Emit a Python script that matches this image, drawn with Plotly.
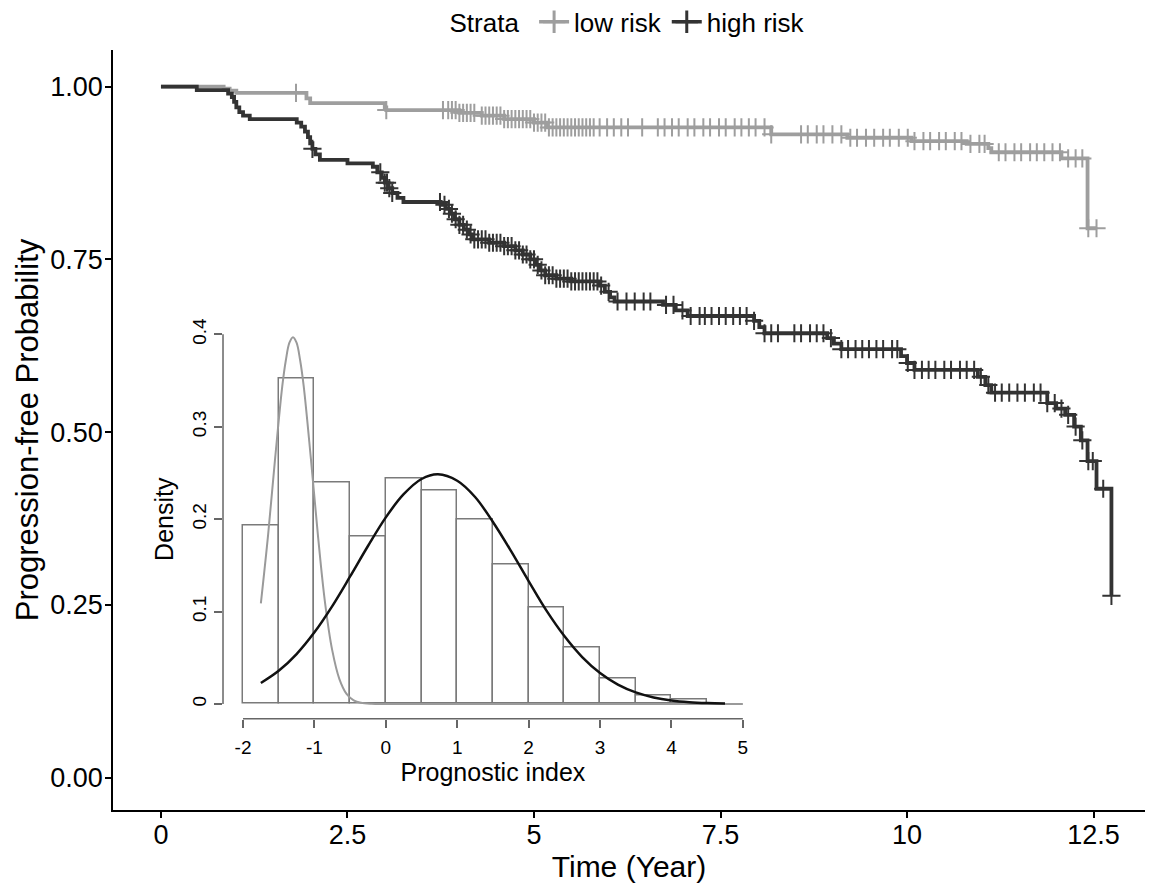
import numpy as np
import plotly.graph_objects as go

# ---------------- Kaplan-Meier data ----------------
low_t = [0, 0.84, 0.92, 1.01, 1.95, 2.0, 3.0, 3.02, 4.0, 4.3, 4.6, 5.0, 5.17, 8.18, 9.2, 10.06, 10.8, 11.09,
         11.13, 12.07, 12.42]
low_s = [1.0, 0.997, 0.994, 0.991, 0.983, 0.976, 0.970, 0.966, 0.962, 0.958, 0.953, 0.948, 0.941, 0.931,
         0.926, 0.921, 0.917, 0.911, 0.905, 0.896, 0.795]
low_cens = [1.81, 3.02, 3.78, 3.85, 3.9, 3.95, 4.0, 4.05, 4.1, 4.15, 4.2, 4.3, 4.35, 4.4, 4.45, 4.5, 4.55,
            4.6, 4.65, 4.7, 4.75, 4.8, 4.85, 4.9, 4.95, 5.0, 5.05, 5.1, 5.15, 5.2, 5.25, 5.3, 5.35, 5.4,
            5.45, 5.5, 5.55, 5.6, 5.65, 5.7, 5.75, 5.8, 5.88, 5.98, 6.07, 6.17, 6.26, 6.45, 6.66, 6.75,
            6.85, 6.94, 7.06, 7.15, 7.27, 7.36, 7.48, 7.57, 7.69, 7.78, 7.88, 7.97, 8.09, 8.18, 8.58,
            8.67, 8.79, 8.88, 9.0, 9.12, 9.24, 9.33, 9.45, 9.56, 9.68, 9.77, 9.89, 10.01, 10.1, 10.22,
            10.31, 10.43, 10.52, 10.64, 10.73, 10.85, 10.97, 11.04, 11.23, 11.32, 11.44, 11.53, 11.65,
            11.74, 11.84, 11.95, 12.05, 12.16, 12.26, 12.35, 12.43, 12.54]

high_t = [0, 0.48, 0.9, 0.95, 0.98, 1.01, 1.05, 1.1, 1.19, 1.82, 1.88, 1.93, 1.97, 2.0, 2.03, 2.07, 2.13,
          2.5, 2.84, 2.9, 2.96, 3.0, 3.05, 3.1, 3.17, 3.25, 3.75, 3.82, 3.88, 3.94, 4.0, 4.06, 4.12, 4.18,
          4.4, 4.6, 4.75, 4.85, 4.95, 5.02, 5.08, 5.15, 5.3, 5.5, 5.88, 5.95, 6.02, 6.08, 6.73, 6.9, 7.06,
          7.95, 8.02, 8.09, 8.93, 9.02, 9.12, 9.92, 10.0, 10.1, 10.95, 11.05, 11.13, 11.88, 12.0, 12.12,
          12.24, 12.33, 12.42, 12.54, 12.74]
high_s = [1.0, 0.995, 0.99, 0.985, 0.978, 0.970, 0.963, 0.958, 0.953, 0.948, 0.942, 0.935, 0.927, 0.918,
          0.910, 0.902, 0.894, 0.889, 0.884, 0.876, 0.868, 0.861, 0.853, 0.846, 0.839, 0.833, 0.829, 0.823,
          0.816, 0.808, 0.800, 0.793, 0.786, 0.779, 0.774, 0.769, 0.763, 0.757, 0.750, 0.742, 0.734, 0.727,
          0.722, 0.718, 0.712, 0.703, 0.695, 0.689, 0.684, 0.676, 0.668, 0.661, 0.652, 0.643, 0.636, 0.628,
          0.620, 0.610, 0.600, 0.590, 0.580, 0.568, 0.557, 0.542, 0.534, 0.525, 0.508, 0.488, 0.458,
          0.418, 0.263]
high_cens = [2.03, 2.94, 3.0, 3.03, 3.06, 3.1, 3.74, 3.8, 3.86, 3.9, 3.95, 4.0, 4.05, 4.1, 4.15, 4.2, 4.25,
             4.3, 4.35, 4.4, 4.45, 4.5, 4.55, 4.6, 4.65, 4.7, 4.75, 4.8, 4.85, 4.9, 4.95, 5.0, 5.05, 5.1,
             5.15, 5.2, 5.25, 5.3, 5.35, 5.4, 5.45, 5.5, 5.55, 5.6, 5.65, 5.7, 5.75, 5.8, 5.85, 5.9, 6.0,
             6.12, 6.24, 6.35, 6.47, 6.56, 6.77, 6.87, 6.99, 7.1, 7.22, 7.29, 7.38, 7.48, 7.57, 7.67, 7.76,
             7.85, 7.95, 8.09, 8.18, 8.27, 8.49, 8.58, 8.7, 8.79, 8.88, 8.98, 9.12, 9.21, 9.31, 9.4, 9.49,
             9.59, 9.68, 9.8, 9.87, 10.01, 10.1, 10.2, 10.29, 10.38, 10.5, 10.59, 10.71, 10.8, 10.9,
             10.99, 11.09, 11.18, 11.27, 11.37, 11.48, 11.58, 11.7, 11.79, 11.88, 11.98, 12.07, 12.16,
             12.26, 12.35, 12.43, 12.49, 12.63, 12.74]

x_ticks = [0, 2.5, 5, 7.5, 10, 12.5]
x_ticklabels = ["0", "2.5", "5", "7.5", "10", "12.5"]
y_ticks = [0, 0.25, 0.5, 0.75, 1.0]
y_ticklabels = ["0.00", "0.25", "0.50", "0.75", "1.00"]

# ---------------- Inset histogram data ----------------
bin_edges = [-2, -1.5, -1, -0.5, 0, 0.5, 1, 1.5, 2, 2.5, 3, 3.5, 4, 4.5]
bin_density = [0.193, 0.352, 0.240, 0.181, 0.2435, 0.231, 0.200, 0.151, 0.104, 0.061, 0.028, 0.0087, 0.0043]

low_curve_x = [-1.75, -1.65, -1.55, -1.45, -1.40, -1.35, -1.30, -1.25, -1.20, -1.15, -1.05, -0.95, -0.85,
               -0.75, -0.65, -0.55, -0.45, -0.35, -0.2, 0, 1, 2, 3, 4, 5]
low_curve_y = [0.109, 0.182, 0.266, 0.344, 0.372, 0.391, 0.397, 0.391, 0.372, 0.344, 0.266, 0.182, 0.109,
               0.058, 0.027, 0.011, 0.004, 0.0013, 0.0002, 0, 0, 0, 0, 0, 0]
high_curve_x = [-1.75, -1.5, -1.25, -1.0, -0.75, -0.5, -0.25, 0, 0.25, 0.5, 0.73, 1.0, 1.25, 1.5, 1.75,
                2.0, 2.25, 2.5, 2.75, 3.0, 3.25, 3.5, 3.75, 4.0, 4.25, 4.5, 4.75]
high_curve_y = [0.0227, 0.0359, 0.0541, 0.0776, 0.106, 0.138, 0.171, 0.202, 0.227, 0.2435, 0.2486, 0.2416,
                0.224, 0.197, 0.166, 0.133, 0.101, 0.0735, 0.0508, 0.0335, 0.021, 0.01255, 0.00714,
                0.00387, 0.002, 0.00099, 0.00046]

inset_x_ticks = [-2, -1, 0, 1, 2, 3, 4, 5]
inset_x_ticklabels = ["-2", "-1", "0", "1", "2", "3", "4", "5"]
inset_y_ticks = [0, 0.1, 0.2, 0.3, 0.4]
inset_y_ticklabels = ["0", "0.1", "0.2", "0.3", "0.4"]

# ---------------- styles ----------------
LOW_COL = "#9e9e9e"
HIGH_COL = "#333333"
FONT = "Liberation Sans, Arial, sans-serif"


def step_value(times, surv, t):
    idx = np.searchsorted(np.asarray(times), t, side="right") - 1
    return float(np.asarray(surv)[idx])


def extend(times, surv, cens):
    last = max(times[-1], max(cens))
    return list(times) + [last], list(surv) + [surv[-1]]


fig = go.Figure()

for name, t, s, cens, col in [("low risk", low_t, low_s, low_cens, LOW_COL),
                              ("high risk", high_t, high_s, high_cens, HIGH_COL)]:
    tx, sx = extend(t, s, cens)
    fig.add_trace(go.Scatter(x=tx, y=sx, mode="lines", line=dict(color=col, width=3.8, shape="hv"),
                             showlegend=False, hoverinfo="skip"))
    fig.add_trace(go.Scatter(x=cens, y=[step_value(t, s, c) for c in cens], mode="markers",
                             marker=dict(symbol="cross-thin", size=13, line=dict(color=col, width=2)),
                             showlegend=False, hoverinfo="skip"))
    fig.add_trace(go.Scatter(x=[None], y=[None], mode="lines+markers", name=name,
                             line=dict(color=col, width=3.5),
                             marker=dict(symbol="cross-thin", size=16, line=dict(color=col, width=3))))

# inset histogram
centers = [(a + b) / 2 for a, b in zip(bin_edges[:-1], bin_edges[1:])]
widths = [b - a for a, b in zip(bin_edges[:-1], bin_edges[1:])]
fig.add_trace(go.Bar(x=centers, y=bin_density, width=widths, xaxis="x2", yaxis="y2",
                     marker=dict(color="white", line=dict(color="#7a7a7a", width=1.5)),
                     showlegend=False, hoverinfo="skip"))
fig.add_trace(go.Scatter(x=low_curve_x, y=low_curve_y, mode="lines", xaxis="x2", yaxis="y2",
                         line=dict(color="#9a9a9a", width=2, shape="spline"),
                         showlegend=False, hoverinfo="skip"))
fig.add_trace(go.Scatter(x=high_curve_x, y=high_curve_y, mode="lines", xaxis="x2", yaxis="y2",
                         line=dict(color="#111111", width=2.5, shape="spline"),
                         showlegend=False, hoverinfo="skip"))

# inset axis lines spanning only the tick range (base-R style)
fig.add_shape(type="line", xref="x2", yref="y2 domain", x0=inset_x_ticks[0], x1=inset_x_ticks[-1],
              y0=0, y1=0, line=dict(color="#666666", width=1.5))
fig.add_shape(type="line", xref="x2 domain", yref="y2", x0=0, x1=0, y0=inset_y_ticks[0],
              y1=inset_y_ticks[-1], line=dict(color="#666666", width=1.5))

fig.update_layout(
    width=1149, height=884,
    margin=dict(l=113, r=4, t=50, b=74, autoexpand=False),
    paper_bgcolor="white", plot_bgcolor="rgba(0,0,0,0)",
    font=dict(family=FONT, color="black"),
    bargap=0,
    legend=dict(orientation="h", x=0.5, xanchor="center", y=1.037, yanchor="middle",
                title=dict(text="Strata ", font=dict(size=26)), font=dict(size=26),
                itemwidth=30, bgcolor="rgba(0,0,0,0)"),
    xaxis=dict(domain=[0, 1], range=[-0.643, 13.19], tickvals=x_ticks, ticktext=x_ticklabels,
               showline=True, linecolor="black", linewidth=1.5, ticks="outside", ticklen=6,
               tickcolor="black", tickwidth=1.5, showgrid=False, zeroline=False,
               tickfont=dict(size=27, color="black"), ticklabelstandoff=-6,
               title=dict(text="Time (Year)", font=dict(size=30), standoff=4)),
    yaxis=dict(domain=[0, 1], range=[-0.047, 1.053], tickvals=y_ticks, ticktext=y_ticklabels,
               showline=True, linecolor="black", linewidth=1.5, ticks="outside", ticklen=6,
               tickcolor="black", tickwidth=1.5, showgrid=False, zeroline=False,
               tickfont=dict(size=27, color="black"), ticklabelstandoff=-3,
               title=dict(text="Progression-free Probability", font=dict(size=31), standoff=2)),
    xaxis2=dict(domain=[0.1066, 0.6297], anchor="y2", range=[-2.28, 5.28], tickvals=inset_x_ticks,
                ticktext=inset_x_ticklabels,
                showline=False, ticks="outside", ticklen=8, tickcolor="#666666", tickwidth=1.5,
                showgrid=False, zeroline=False, tickfont=dict(size=19, color="black"),
                ticklabelstandoff=3,
                title=dict(text="Prognostic index", font=dict(size=25), standoff=0)),
    yaxis2=dict(domain=[0.12, 0.6453], anchor="x2", range=[-0.016, 0.416], tickvals=inset_y_ticks,
                ticktext=inset_y_ticklabels, tickangle=-90,
                showline=False, ticks="outside", ticklen=8, tickcolor="#666666", tickwidth=1.5,
                showgrid=False, zeroline=False, tickfont=dict(size=19, color="black"),
                title=dict(text="Density", font=dict(size=25), standoff=8)),
)

fig.write_html("out.html", config={"displayModeBar": False},
               post_script="document.body.style.margin='0px';")
